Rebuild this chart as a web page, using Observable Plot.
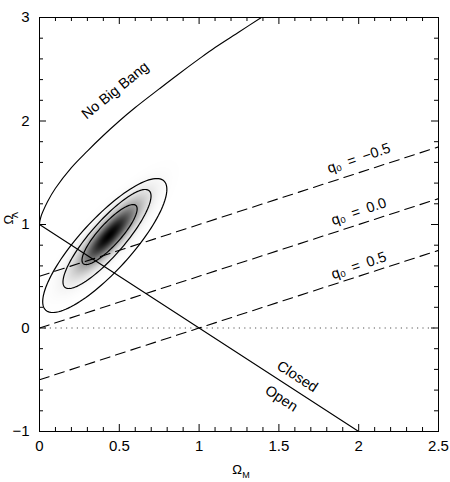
<!DOCTYPE html>
<html><head><meta charset="utf-8">
<script src="https://cdn.jsdelivr.net/npm/d3@7"></script>
<script src="https://cdn.jsdelivr.net/npm/@observablehq/plot@0.6"></script>
<style>body{margin:0;background:#fff}</style>
</head><body><div id="chart"></div>
<script>
// "No Big Bang" boundary
const nbbX = [0, 0.002, 0.005, 0.01, 0.02, 0.05, 0.1, 0.2, 0.3, 0.4, 0.5, 0.6, 0.75, 0.86, 1.0, 1.1, 1.25, 1.39];
const nbbY = [1.0, 1.03, 1.05, 1.08, 1.12, 1.22, 1.35, 1.55, 1.71, 1.86, 2.0, 2.13, 2.31, 2.44, 2.6, 2.71, 2.86, 3.0];
// constant deceleration lines q0
const qValues = [-0.5, 0.0, 0.5];
const qStartY = [0.5, 0.0, -0.5];
const qEndY = [1.75, 1.25, 0.75];
const qLineX = [0, 2.5];
// flat universe line (closed / open)
const flatX = [0, 2];
const flatY = [1, -1];
// confidence contours (ellipses): centre, major and minor half-axis vectors in data units
const contourLevels = ["68%", "95%", "99.7%"];
const contourCX = [0.439, 0.423, 0.409];
const contourCY = [0.903, 0.860, 0.797];
const contourMajX = [0.165, 0.264, 0.370];
const contourMajY = [0.281, 0.466, 0.625];
const contourMinX = [0.051, 0.080, 0.120];
const contourMinY = [-0.071, -0.108, -0.169];
// likelihood shading: peak location and inner-contour chi2
const peakX = 0.437, peakY = 0.895, innerChi2 = 2.0;
// annotations
const labelText = ["No Big Bang", "q\u2080\u2002=\u2002\u22120.5", "q\u2080\u2002=\u20020.0", "q\u2080\u2002=\u20020.5", "Closed", "Open"];
const labelX = [0.474, 2.0, 2.0, 2.0, 1.615, 1.515];
const labelY = [2.295, 1.64, 1.126, 0.604, -0.469, -0.681];
const labelAngle = [-39, -19, -19, -19, 33, 33];
// ticks
const xMajor = [0, 0.5, 1, 1.5, 2, 2.5];
const yMajor = [-1, 0, 1, 2, 3];
const xMinor = d3.range(0, 26).map(i => i / 10).filter(v => Math.abs(v * 2 - Math.round(v * 2)) > 1e-6);
const yMinor = d3.range(-5, 16).map(i => i / 5).filter(v => Math.abs(v - Math.round(v)) > 1e-6);

const W = 450, H = 482, mL = 39, mR = 12, mT = 17, mB = 51;
const fw = W - mL - mR, fh = H - mT - mB;

const nbb = nbbX.map((x, i) => ({x, y: nbbY[i]}));
const qPts = qValues.flatMap((q, i) => [{q, x: qLineX[0], y: qStartY[i]}, {q, x: qLineX[1], y: qEndY[i]}]);
const flat = flatX.map((x, i) => ({x, y: flatY[i]}));
const ellipsePts = contourLevels.flatMap((lev, i) => d3.range(0, 120).map(k => {
  const t = k / 120 * 2 * Math.PI;
  return {lev, x: contourCX[i] + Math.cos(t) * contourMajX[i] + Math.sin(t) * contourMinX[i],
               y: contourCY[i] + Math.cos(t) * contourMajY[i] + Math.sin(t) * contourMinY[i]};
}));
const M = [contourMajX[0], contourMajY[0]], m = [contourMinX[0], contourMinY[0]];
const det = M[0] * m[1] - M[1] * m[0];
function likelihood(x, y) {
  const dx = x - peakX, dy = y - peakY;
  const u = (dx * m[1] - dy * m[0]) / det;
  const v = (M[0] * dy - M[1] * dx) / det;
  return Math.exp(-innerChi2 * (u * u + v * v) / 2);
}
const labels = labelText.map((t, i) => ({t, x: labelX[i], y: labelY[i], a: labelAngle[i]}));
const fmt = d => d < 0 ? "\u2212" + (-d) : String(d);
const font = "Liberation Sans, Arial, Helvetica, sans-serif";

const plot = Plot.plot({
  width: W, height: H, marginLeft: mL, marginRight: mR, marginTop: mT, marginBottom: mB,
  style: {fontFamily: font, background: "white"},
  x: {domain: [0, 2.5]},
  y: {domain: [-1, 3]},
  color: {type: "linear", domain: [0, 1], range: ["#ffffff", "#000000"]},
  marks: [
    Plot.raster({fill: likelihood, x1: 0, x2: 1.2, y1: -0.6, y2: 2.2, pixelSize: 1}),
    Plot.ruleY([0], {stroke: "#555", strokeWidth: 1.2, strokeDasharray: "1.2,4.2"}),
    Plot.line(qPts, {x: "x", y: "y", z: "q", stroke: "black", strokeWidth: 1.1, strokeDasharray: "10,6"}),
    Plot.line(flat, {x: "x", y: "y", stroke: "black", strokeWidth: 1.1}),
    Plot.line(ellipsePts, {x: "x", y: "y", z: "lev", stroke: "black", strokeWidth: 1.2, curve: "linear-closed", clip: true}),
    Plot.line(nbb, {x: "x", y: "y", stroke: "black", strokeWidth: 1.1, curve: "catmull-rom", clip: true}),
    Plot.text(labels, {x: "x", y: "y", text: "t", rotate: "a", fontSize: 14.5, fill: "black"}),
    Plot.frame({stroke: "black", strokeWidth: 1}),
    Plot.tickX(xMajor, {x: d => d, insetTop: fh - 7, stroke: "black"}),
    Plot.tickX(xMinor, {x: d => d, insetTop: fh - 4, stroke: "black"}),
    Plot.tickX(xMajor, {x: d => d, insetBottom: fh - 7, stroke: "black"}),
    Plot.tickX(xMinor, {x: d => d, insetBottom: fh - 4, stroke: "black"}),
    Plot.tickY(yMajor, {y: d => d, insetRight: fw - 7, stroke: "black"}),
    Plot.tickY(yMinor, {y: d => d, insetRight: fw - 4, stroke: "black"}),
    Plot.tickY(yMajor, {y: d => d, insetLeft: fw - 7, stroke: "black"}),
    Plot.tickY(yMinor, {y: d => d, insetLeft: fw - 4, stroke: "black"}),
    Plot.axisX(xMajor, {anchor: "bottom", tickSize: 0, tickPadding: 9, fontSize: 15, tickFormat: fmt, label: null}),
    Plot.axisY(yMajor, {anchor: "left", tickSize: 0, tickPadding: 10, fontSize: 15, tickFormat: fmt, label: null}),
    Plot.text(["\u03A9"], {frameAnchor: "left", dx: -31, dy: 0, rotate: -90, fontSize: 13}),
    Plot.text(["\u039B"], {frameAnchor: "left", dx: -24.5, dy: -6.5, rotate: -90, fontSize: 9}),
    Plot.text(["\u03A9"], {frameAnchor: "bottom", dx: -2, dy: 42, fontSize: 13}),
    Plot.text(["M"], {frameAnchor: "bottom", dx: 7, dy: 46, fontSize: 9})
  ]
});
document.getElementById("chart").appendChild(plot);
</script>
</body></html>
